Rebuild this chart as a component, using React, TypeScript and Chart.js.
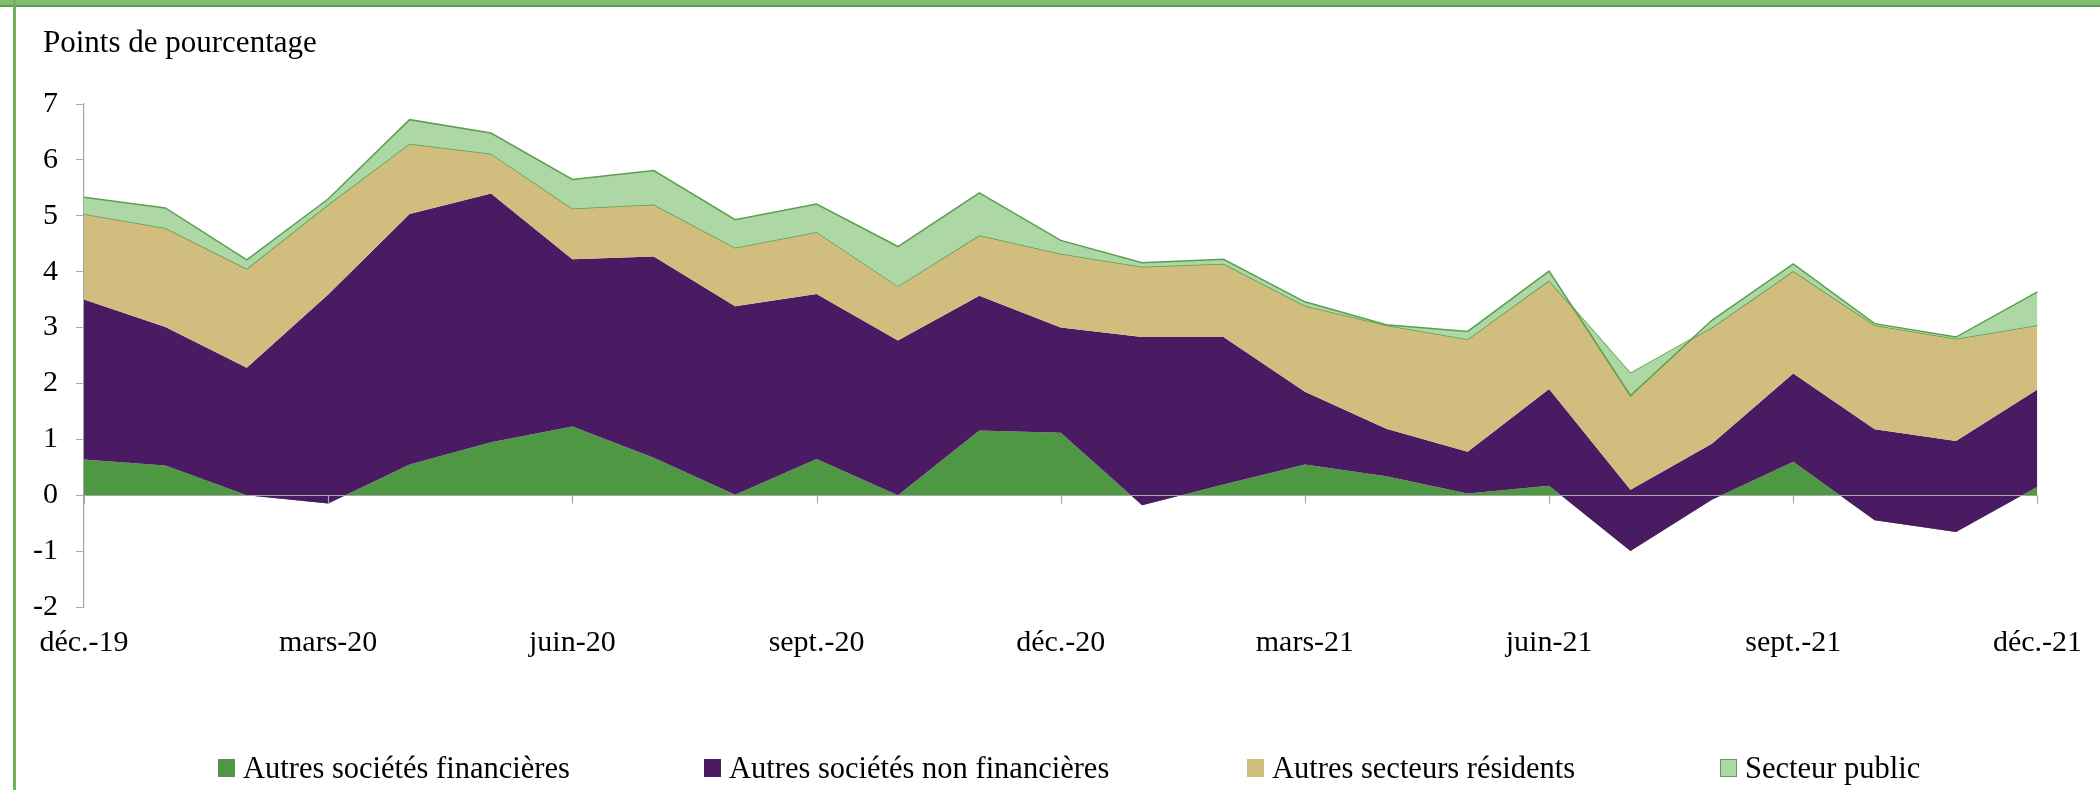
import React, { useEffect, useRef } from 'react';
import { Chart, registerables } from 'chart.js';

Chart.register(...registerables);

// ---- Data ----
const months = [
  'déc.-19', 'janv.-20', 'févr.-20', 'mars-20', 'avr.-20', 'mai-20', 'juin-20', 'juil.-20', 'août-20',
  'sept.-20', 'oct.-20', 'nov.-20', 'déc.-20', 'janv.-21', 'févr.-21', 'mars-21', 'avr.-21', 'mai-21',
  'juin-21', 'juil.-21', 'août-21', 'sept.-21', 'oct.-21', 'nov.-21', 'déc.-21',
];
const shownLabels = ['déc.-19', 'mars-20', 'juin-20', 'sept.-20', 'déc.-20', 'mars-21', 'juin-21', 'sept.-21', 'déc.-21'];

const autresSocietesFinancieres = [
  0.64, 0.53, 0.0, -0.15, 0.55, 0.95, 1.23, 0.67, 0.01, 0.65, 0.0, 1.16, 1.12,
  -0.18, 0.19, 0.55, 0.34, 0.03, 0.17, -1.0, -0.08, 0.6, -0.45, -0.66, 0.15,
];
const autresSocietesNonFinancieres = [
  2.86, 2.48, 2.28, 3.74, 4.48, 4.45, 2.99, 3.6, 3.37, 2.95, 2.77, 2.41, 1.88,
  3.01, 2.64, 1.3, 0.85, 0.75, 1.73, 1.1, 1.0, 1.58, 1.63, 1.63, 1.74,
];
const autresSecteursResidents = [
  1.53, 1.77, 1.77, 1.61, 1.26, 0.71, 0.91, 0.93, 1.05, 1.11, 0.97, 1.08, 1.32,
  1.26, 1.31, 1.54, 1.85, 2.01, 1.94, 2.08, 2.08, 1.83, 1.86, 1.83, 1.15,
];
const secteurPublic = [
  0.3, 0.36, 0.16, 0.1, 0.43, 0.37, 0.52, 0.61, 0.5, 0.5, 0.71, 0.76, 0.24,
  0.07, 0.08, 0.07, 0.01, 0.14, 0.17, -0.4, 0.13, 0.13, 0.03, 0.03, 0.6,
];

const seriesNames = [
  'Autres sociétés financières',
  'Autres sociétés non financières',
  'Autres secteurs résidents',
  'Secteur public',
];
const yMin = -2;
const yMax = 7;
const yStep = 1;

// ---- Styles ----
const fillColors = ['#4f9843', '#4a1a63', '#d1bd7d', '#add8a5'];
const edgeColors = ['transparent', 'transparent', '#5b9f4e', '#5b9f4e'];
const edgeWidths = [0, 0, 1.5, 1.5];
const legendLefts = [218, 704, 1247, 1720];
const axisGray = '#a6a6a6';
const FONT = '"Liberation Serif", "Times New Roman", serif';

const allSeries = [
  autresSocietesFinancieres,
  autresSocietesNonFinancieres,
  autresSecteursResidents,
  secteurPublic,
];

// Cumulative stack tops (Excel-style stacked area, drawn bottom series first)
function stackTops(series: number[][]): number[][] {
  const out: number[][] = [];
  series.forEach((s, k) => {
    out.push(s.map((v, i) => (k === 0 ? v : out[k - 1][i] + v)));
  });
  return out;
}

const zeroAxisPlugin = {
  id: 'zeroAxis',
  afterDatasetsDraw(chart: any) {
    const { ctx, chartArea, scales } = chart;
    const x = scales.x;
    const y = scales.y;
    const y0 = Math.round(y.getPixelForValue(0)) + 0.5;
    ctx.save();
    ctx.strokeStyle = axisGray;
    ctx.lineWidth = 1.2;
    ctx.beginPath();
    ctx.moveTo(chartArea.left, y0);
    ctx.lineTo(chartArea.right, y0);
    months.forEach((m, i) => {
      if (shownLabels.includes(m)) {
        const px = Math.round(x.getPixelForValue(i)) + 0.5;
        ctx.moveTo(px, y0);
        ctx.lineTo(px, y0 + 8);
      }
    });
    ctx.stroke();
    ctx.restore();
  },
};

function AreaChart() {
  const ref = useRef<HTMLCanvasElement | null>(null);
  useEffect(() => {
    if (!ref.current) return;
    const tops = stackTops(allSeries);
    const chart = new Chart(ref.current, {
      type: 'line',
      data: {
        labels: months,
        datasets: tops.map((d, k) => ({
          label: seriesNames[k],
          data: d,
          fill: k === 0 ? 'origin' : '-1',
          backgroundColor: fillColors[k],
          borderColor: edgeColors[k],
          borderWidth: edgeWidths[k],
          pointRadius: 0,
          tension: 0,
          order: allSeries.length - 1 - k,
        })),
      },
      options: {
        responsive: false,
        animation: false,
        layout: { padding: { left: 0, right: 50, top: 104, bottom: 0 } },
        plugins: {
          legend: { display: false },
          title: { display: false },
          tooltip: { enabled: false },
        },
        scales: {
          x: {
            type: 'category',
            offset: false,
            grid: { display: false, drawTicks: false },
            border: { display: false },
            ticks: {
              autoSkip: false,
              maxRotation: 0,
              minRotation: 0,
              padding: 18,
              color: '#000',
              font: { family: FONT, size: 30 },
              callback: (_v: any, i: number) => (shownLabels.includes(months[i]) ? months[i] : ''),
            },
            afterFit: (s: any) => {
              s.height = 183;
            },
          },
          y: {
            min: yMin,
            max: yMax,
            z: 1,
            ticks: {
              stepSize: yStep,
              padding: 18,
              color: '#000',
              font: { family: FONT, size: 30 },
            },
            grid: {
              drawOnChartArea: false,
              drawTicks: true,
              tickLength: 8,
              tickColor: axisGray,
              color: axisGray,
            },
            border: { display: true, color: axisGray, width: 1.2 },
            afterFit: (s: any) => {
              s.width = 84;
            },
          },
        },
      },
      plugins: [zeroAxisPlugin],
    } as any);
    return () => chart.destroy();
  }, []);
  return <canvas ref={ref} width={2100} height={790} style={{ display: 'block' }} />;
}

export default function App() {
  return (
    <div
      style={{
        position: 'absolute',
        left: 0,
        top: 0,
        width: 2100,
        height: 790,
        background: '#fff',
        overflow: 'hidden',
        fontFamily: FONT,
      }}
    >
      <AreaChart />
      {/* frame */}
      <div style={{ position: 'absolute', left: 0, top: 0, width: 2100, height: 5, background: '#80be70' }} />
      <div style={{ position: 'absolute', left: 0, top: 5, width: 2100, height: 2, background: '#5a9e4c' }} />
      <div style={{ position: 'absolute', left: 13, top: 0, width: 3, height: 790, background: '#6db35f' }} />
      {/* title */}
      <div
        style={{
          position: 'absolute',
          left: 43,
          top: 26,
          fontSize: 31,
          lineHeight: '31px',
          color: '#000',
          whiteSpace: 'nowrap',
        }}
      >
        Points de pourcentage
      </div>
      {/* legend */}
      {seriesNames.map((n, k) => (
        <div
          key={n}
          style={{
            position: 'absolute',
            left: legendLefts[k],
            top: 753,
            display: 'flex',
            alignItems: 'flex-start',
            whiteSpace: 'nowrap',
          }}
        >
          <div
            style={{
              width: 17,
              height: 18,
              marginTop: 6,
              marginRight: 8,
              boxSizing: 'border-box',
              background: fillColors[k],
              border: k === 3 ? '1px solid #5b9f4e' : 'none',
            }}
          />
          <span style={{ fontSize: 30.5, lineHeight: '30px', color: '#000' }}>{n}</span>
        </div>
      ))}
    </div>
  );
}
